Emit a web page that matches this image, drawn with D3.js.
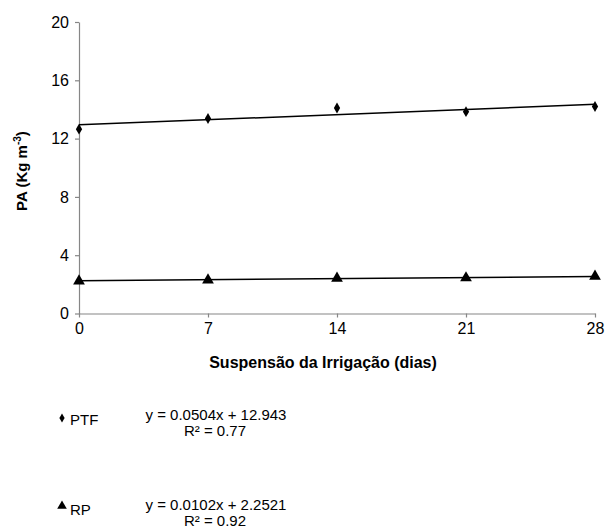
<!DOCTYPE html>
<html><head><meta charset="utf-8">
<script src="https://cdn.jsdelivr.net/npm/d3@7"></script>
<style>body{margin:0;background:#fff}svg{display:block}text{font-family:"Liberation Sans",Arial,sans-serif}</style>
</head><body>
<script>
const days = [0, 7, 14, 21, 28];
const ptf = [12.65, 13.38, 14.1, 13.85, 14.2];
const rp = [2.22, 2.30, 2.42, 2.44, 2.55];
const yTicks = [0, 4, 8, 12, 16, 20];
const fits = [
  {name: "PTF", a: 0.0504, b: 12.943, eq: "y = 0.0504x + 12.943", r2: "R² = 0.77", values: ptf, sym: "diamond"},
  {name: "RP", a: 0.0102, b: 2.2521, eq: "y = 0.0102x + 2.2521", r2: "R² = 0.92", values: rp, sym: "triangle"}
];

const W = 607, H = 531;
const svg = d3.select("body").append("svg").attr("width", W).attr("height", H);
const x = d3.scaleLinear().domain([0, 28]).range([79, 595]);
const y = d3.scaleLinear().domain([0, 20]).range([313.5, 22]);
const axisColor = "#868686";

const gx = svg.append("g").attr("transform", "translate(0,313.5)")
  .call(d3.axisBottom(x).tickValues(days).tickSize(4).tickSizeOuter(0).tickPadding(5));
const gy = svg.append("g").attr("transform", "translate(79,0)")
  .call(d3.axisLeft(y).tickValues(yTicks).tickSize(4).tickSizeOuter(0).tickPadding(6));
[gx, gy].forEach(g => {
  g.select(".domain").attr("stroke", axisColor).attr("stroke-width", 1.2);
  g.selectAll(".tick line").attr("stroke", axisColor).attr("stroke-width", 1.2);
  g.selectAll("text").attr("fill", "#000").style("font-size", "16px").style("font-family", '"Liberation Sans",Arial,sans-serif');
});

// trend lines
fits.forEach(f => {
  svg.append("line")
    .attr("x1", x(0)).attr("y1", y(f.b))
    .attr("x2", x(28)).attr("y2", y(f.b + f.a * 28))
    .attr("stroke", "#000").attr("stroke-width", 1.5);
});

const diamond = d3.symbol().type(d3.symbolDiamond).size(34);
const triangle = d3.symbol().type(d3.symbolTriangle).size(60);

fits.forEach(f => {
  svg.append("g").selectAll("path").data(f.values).join("path")
    .attr("d", f.sym === "diamond" ? diamond : triangle)
    .attr("transform", (d, i) => `translate(${x(days[i])},${y(d)})`)
    .attr("fill", "#000");
});

// axis titles
svg.append("text").attr("x", 323).attr("y", 368).attr("text-anchor", "middle")
  .style("font-size", "16px").style("font-weight", "bold")
  .text("Suspensão da Irrigação (dias)");
const yt = svg.append("text").attr("transform", "translate(27,171) rotate(-90)")
  .attr("text-anchor", "middle").style("font-size", "15px").style("font-weight", "bold");
yt.append("tspan").text("PA (Kg m");
yt.append("tspan").attr("dy", -6).style("font-size", "10px").text("-3");
yt.append("tspan").attr("dy", 6).text(")");

// legend
const legendY = [419, 509];
fits.forEach((f, i) => {
  const ly = legendY[i];
  svg.append("path")
    .attr("d", f.sym === "diamond" ? d3.symbol().type(d3.symbolDiamond).size(24)() : d3.symbol().type(d3.symbolTriangle).size(40)())
    .attr("transform", `translate(62,${ly + (f.sym === "diamond" ? -1 : -3)})`).attr("fill", "#000");
  svg.append("text").attr("x", 70).attr("y", ly + 6).style("font-size", "15px").text(f.name);
  svg.append("text").attr("x", 216).attr("y", ly + 1).attr("text-anchor", "middle").style("font-size", "15px").text(f.eq);
  svg.append("text").attr("x", 215).attr("y", ly + 17).attr("text-anchor", "middle").style("font-size", "15px").text(f.r2);
});
</script>
</body></html>
